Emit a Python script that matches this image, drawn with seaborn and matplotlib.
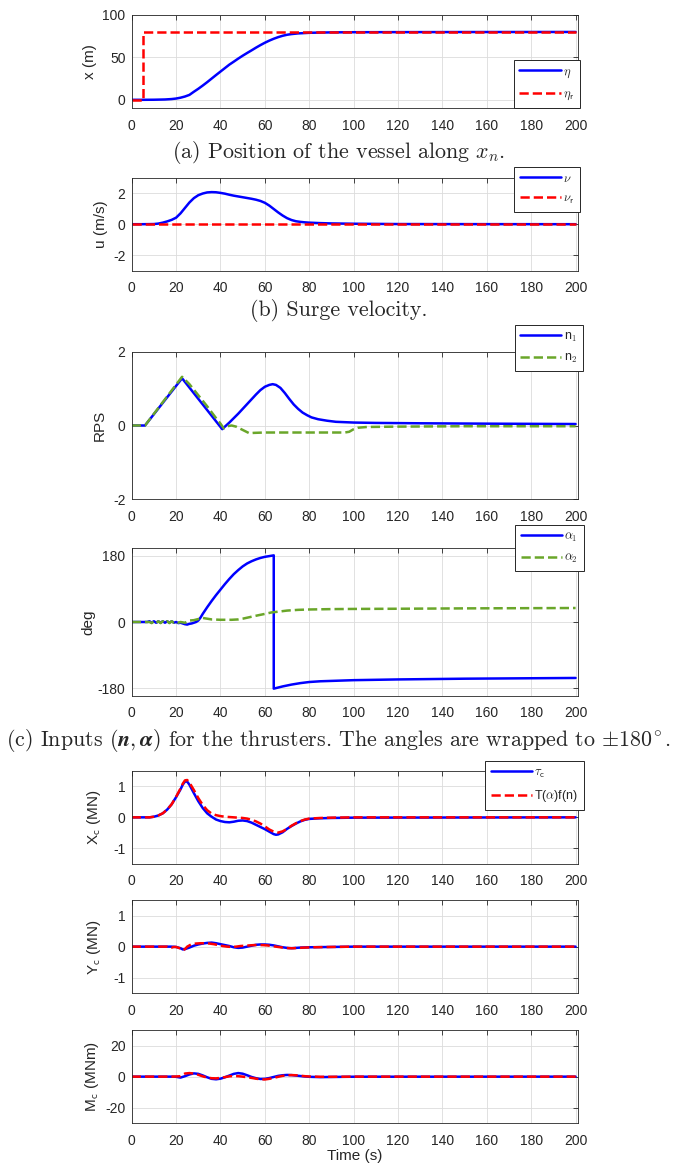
import matplotlib
matplotlib.use("Agg")
import matplotlib.pyplot as plt
import seaborn as sns
import numpy as np

# ---------------- data ----------------
# (a) position along x_n
t_eta = [0, 5, 10, 15, 18, 20, 22, 24, 26, 28, 30, 32, 34, 36, 38, 40, 42, 44, 46, 48, 50,
         52, 54, 56, 58, 60, 62, 64, 66, 68, 70, 72, 75, 80, 85, 90, 100, 120, 150, 200]
eta = [0, 0, 0.1, 0.4, 0.9, 1.5, 2.5, 3.9, 5.8, 9.5, 13, 16.8, 20.8, 25, 29.2, 33.3, 37.4, 41.5,
       45, 48.6, 52, 55.2, 58.3, 61.5, 64.5, 67.3, 69.8, 72, 73.9, 75.5, 76.7, 77.5, 78.3, 79,
       79.3, 79.5, 79.7, 79.8, 79.9, 80]
t_eta_r = [0, 5, 5, 200]
eta_r = [0, 0, 80, 80]

# (b) surge velocity
t_nu = [0, 5, 10, 12, 14, 16, 18, 20, 22, 24, 26, 28, 30, 32, 34, 36, 38, 40, 42, 44, 46, 48, 50,
        52, 54, 56, 58, 60, 62, 64, 66, 68, 70, 72, 74, 76, 78, 80, 85, 90, 100, 120, 150, 200]
nu = [0, 0, 0.01, 0.04, 0.1, 0.18, 0.28, 0.42, 0.7, 1.05, 1.4, 1.68, 1.87, 1.98, 2.05, 2.07, 2.06,
      2.02, 1.97, 1.9, 1.84, 1.79, 1.74, 1.69, 1.64, 1.58, 1.5, 1.38, 1.2, 0.98, 0.76, 0.56, 0.39,
      0.27, 0.19, 0.15, 0.12, 0.1, 0.07, 0.05, 0.03, 0.01, 0.005, 0.0]
t_nu_r = [0, 200]
nu_r = [0, 0]

# (c) thruster inputs: RPS
t_n1 = [0, 6, 22.7, 40.8, 42, 44, 46, 48, 50, 52, 54, 56, 58, 60, 62, 63.5, 65, 67, 69, 71, 73,
        75, 77, 79, 81, 84, 88, 92, 96, 100, 110, 130, 160, 200]
n1 = [0, 0, 1.28, -0.1, -0.03, 0.08, 0.2, 0.32, 0.45, 0.58, 0.71, 0.84, 0.96, 1.05, 1.1, 1.12,
      1.1, 1.02, 0.88, 0.72, 0.57, 0.45, 0.35, 0.28, 0.22, 0.17, 0.13, 0.1, 0.09, 0.08, 0.07,
      0.06, 0.05, 0.04]
t_n2 = [0, 6, 22.7, 26, 30, 34, 38, 40, 41.5, 43, 45, 47, 50, 53, 55, 60, 70, 80, 90, 96, 98,
        100, 102, 106, 120, 150, 200]
n2 = [0, 0, 1.32, 1.12, 0.82, 0.52, 0.2, 0.05, -0.08, -0.02, 0.0, -0.03, -0.12, -0.21, -0.2,
      -0.19, -0.19, -0.19, -0.19, -0.19, -0.17, -0.1, -0.06, -0.04, -0.03, -0.02, -0.02]

# (c) thruster inputs: angles (deg)
t_a1 = [0, 7, 8, 9, 10, 11, 12, 13, 14, 15, 16, 17, 18, 19, 20, 21, 22, 23, 24, 25, 26, 27, 28,
        29, 30, 31, 32, 34, 36, 38, 40, 42, 44, 46, 48, 50, 52, 54, 56, 58, 60, 62, 64, 64,
        66, 68, 72, 76, 80, 85, 90, 100, 120, 150, 200]
a1 = [0, 0, 2, -2, 2, -2, 2, -2, 2, -2, 2, -2, 2, -2, 0, -3, -2, -4, -6, -7, -5, -4, -2, 0, 4,
      12, 22, 40, 57, 73, 88, 103, 117, 130, 141, 151, 159, 165, 170, 174, 177, 179, 181, -181,
      -178, -175, -170, -166, -163, -161, -160, -158, -156, -154, -152]
t_a2 = [0, 8, 9, 10, 11, 12, 13, 14, 15, 16, 17, 18, 19, 20, 21, 22, 24, 26, 28, 30, 32, 34, 36,
        40, 45, 48, 50, 53, 56, 60, 63, 66, 70, 75, 80, 90, 100, 120, 150, 200]
a2 = [0, 0, -3, 2, -3, 2, -3, 2, -3, 2, -3, 2, -2, 1, -2, 0, -2, 4, 5, 8, 11, 9, 7, 6, 6, 7, 9,
      13, 17, 22, 26, 28, 31, 33, 34, 35, 35.5, 36, 37, 38]

# (d) commanded vs produced forces
t_xc = [0, 8, 10, 12, 14, 16, 18, 20, 22, 23, 24, 25, 26, 28, 30, 32, 34, 36, 38, 40, 42, 44, 46,
        48, 50, 52, 54, 56, 58, 60, 62, 64, 65, 66, 68, 70, 72, 74, 76, 78, 80, 85, 90, 100, 200]
xc_tau = [0, 0, 0.02, 0.06, 0.13, 0.25, 0.42, 0.65, 0.9, 1.05, 1.15, 1.15, 1.05, 0.78, 0.52, 0.3,
          0.13, 0.02, -0.07, -0.12, -0.15, -0.16, -0.14, -0.11, -0.1, -0.12, -0.17, -0.24, -0.31,
          -0.38, -0.46, -0.54, -0.56, -0.55, -0.48, -0.37, -0.28, -0.2, -0.13, -0.08, -0.05,
          -0.03, -0.02, -0.01, 0]
t_xf = [0, 8, 10, 12, 14, 16, 18, 20, 22, 23, 24, 25, 26, 28, 30, 32, 34, 36, 38, 40, 42, 44, 46,
        48, 50, 52, 54, 56, 58, 60, 62, 64, 66, 68, 70, 72, 74, 76, 78, 80, 85, 90, 100, 200]
xc_tf = [0, 0, 0.02, 0.06, 0.13, 0.25, 0.42, 0.66, 0.93, 1.08, 1.19, 1.2, 1.12, 0.88, 0.62, 0.4,
         0.23, 0.12, 0.07, 0.04, 0.02, 0.01, 0.0, -0.01, -0.02, -0.04, -0.08, -0.13, -0.2, -0.29,
         -0.39, -0.46, -0.49, -0.45, -0.37, -0.27, -0.19, -0.12, -0.07, -0.04, -0.02, -0.01, 0, 0]

t_yc = [0, 18, 20, 22, 23, 24, 26, 28, 30, 32, 34, 36, 38, 40, 42, 44, 46, 48, 50, 52, 54, 56, 58,
        60, 62, 64, 66, 68, 70, 72, 74, 76, 80, 90, 100, 200]
yc_tau = [0, 0, -0.01, -0.05, -0.09, -0.08, -0.03, 0.03, 0.07, 0.1, 0.12, 0.13, 0.11, 0.08, 0.05,
          0.02, -0.02, -0.04, -0.03, 0.0, 0.03, 0.06, 0.07, 0.07, 0.06, 0.04, 0.01, -0.02, -0.04,
          -0.05, -0.04, -0.03, -0.02, -0.01, 0, 0]
t_yf = [0, 16, 17, 18, 19, 20, 22, 23, 24, 25, 27, 29, 31, 33, 35, 37, 39, 41, 43, 45, 47, 49, 51,
        53, 55, 57, 59, 61, 63, 65, 67, 69, 71, 73, 75, 78, 82, 90, 100, 200]
yc_tf = [0, 0, -0.02, -0.03, -0.01, -0.01, -0.06, -0.12, -0.08, 0.0, 0.08, 0.1, 0.11, 0.11, 0.1,
         0.08, 0.05, 0.02, 0.0, -0.01, 0.0, 0.02, 0.03, 0.04, 0.05, 0.05, 0.05, 0.04, 0.02, 0.0,
         -0.02, -0.04, -0.05, -0.05, -0.04, -0.03, -0.02, -0.01, 0, 0]

t_mc = [0, 18, 20, 22, 24, 26, 28, 30, 32, 34, 36, 38, 40, 42, 44, 46, 48, 50, 52, 54, 56, 58, 60,
        62, 64, 66, 68, 70, 72, 74, 76, 78, 80, 85, 90, 100, 200]
mc_tau = [0, 0, -0.1, -0.6, 0.3, 1.4, 2.1, 1.8, 0.8, -0.4, -1.4, -1.7, -1.3, -0.4, 0.7, 1.8, 2.3,
          1.9, 0.9, -0.2, -1.0, -1.5, -1.4, -0.9, -0.2, 0.5, 0.9, 1.1, 1.0, 0.7, 0.4, 0.1, -0.1,
          -0.3, -0.2, -0.05, 0]
t_mf = [0, 18, 20, 22, 23, 24, 26, 28, 30, 32, 34, 36, 38, 40, 42, 44, 46, 48, 50, 52, 54, 56, 58,
        60, 62, 64, 66, 68, 70, 72, 74, 76, 78, 80, 85, 90, 100, 200]
mc_tf = [0, 0, 0.1, 0.3, 1.2, 2.0, 2.3, 2.0, 1.2, 0.2, -0.6, -1.0, -1.1, -0.8, -0.3, 0.2, 0.4, 0.3,
         0.0, -0.4, -0.8, -1.3, -1.7, -1.8, -1.4, -0.8, -0.1, 0.5, 0.9, 1.0, 0.9, 0.6, 0.3, 0.1,
         -0.1, -0.1, 0, 0]

x_ticks = [0, 20, 40, 60, 80, 100, 120, 140, 160, 180, 200]
captions = [r"(a) Position of the vessel along $x_n$.",
            r"(b) Surge velocity.",
            r"(c) Inputs $(\boldsymbol{n},\boldsymbol{\alpha})$ for the thrusters. "
            r"The angles are wrapped to $\pm180^{\!\circ}$."]

# ---------------- style ----------------
sns.set_style("white")
plt.rcParams["font.family"] = ["Liberation Sans", "DejaVu Sans"]
plt.rcParams["mathtext.fontset"] = "cm"
plt.rcParams["axes.unicode_minus"] = False

W, H = 678, 1165
L, R = 131.7, 577.8
BLUE, RED, GREEN = "#0000FF", "#FF0000", "#6AA62A"
DARK = "#262626"
LW = 1.8

fig = plt.figure(figsize=(W / 100, H / 100), dpi=100)


def add_ax(top, bottom):
    return fig.add_axes([L / W, 1 - bottom / H, (R - L) / W, (bottom - top) / H])


def style(ax, ylim, yticks, ylabel="", label_right=100):
    ax.set_xlim(0, 201)
    ax.set_ylim(*ylim)
    ax.set_xticks(x_ticks)
    ax.set_yticks(yticks)
    ax.grid(True, color="#dcdcdc", lw=0.6)
    ax.set_axisbelow(True)
    for s in ax.spines.values():
        s.set_color(DARK)
        s.set_linewidth(0.6)
        s.set_visible(True)
    ax.tick_params(direction="in", top=True, right=True, length=3.5, width=0.6,
                   color=DARK, labelcolor=DARK, labelsize=10)
    ax.tick_params(axis="x", pad=7.5)
    ax.tick_params(axis="y", pad=4.5)
    ax.set_xlabel("")
    ax.set_ylabel(ylabel, fontsize=11, color=DARK)
    ax.yaxis.set_label_coords((label_right - L) / (R - L), 0.5)


def line(ax, t, v, color, ls, label):
    sns.lineplot(x=t, y=v, ax=ax, color=color, linestyle=ls, lw=LW,
                 estimator=None, sort=False, label=label)


def legend(ax, right, top):
    leg = ax.legend(loc="upper right", bbox_to_anchor=(right / W, 1 - top / H),
                    bbox_transform=fig.transFigure, fontsize=9, handlelength=3.3,
                    handletextpad=0.2, borderpad=0.45, labelspacing=0.65,
                    fancybox=False, framealpha=1, borderaxespad=0)
    leg.get_frame().set_edgecolor(DARK)
    leg.get_frame().set_linewidth(0.7)
    for txt in leg.get_texts():
        txt.set_color(DARK)
    return leg


# (a)
ax1 = add_ax(15, 108.3)
line(ax1, t_eta, eta, BLUE, "-", r"$\eta$")
line(ax1, t_eta_r, eta_r, RED, "--", r"$\eta_\mathsf{r}$")
style(ax1, (-10, 100), [0, 50, 100], ylabel="x (m)", label_right=97)
legend(ax1, 580, 60)

# (b)
ax2 = add_ax(177.7, 270.7)
line(ax2, t_nu, nu, BLUE, "-", r"$\nu$")
line(ax2, t_nu_r, nu_r, RED, "--", r"$\nu_\mathsf{r}$")
style(ax2, (-3, 3), [-2, 0, 2], ylabel="u (m/s)", label_right=108)
legend(ax2, 580, 167)

# (c) RPS
ax3 = add_ax(351.7, 499.3)
line(ax3, t_n1, n1, BLUE, "-", r"n$_\mathsf{1}$")
line(ax3, t_n2, n2, GREEN, "--", r"n$_\mathsf{2}$")
style(ax3, (-2, 2), [-2, 0, 2], ylabel="RPS", label_right=107)
legend(ax3, 583, 325)

# (c) deg
ax4 = add_ax(548, 696)
line(ax4, t_a1, a1, BLUE, "-", r"$\alpha_\mathsf{1}$")
line(ax4, t_a2, a2, GREEN, "--", r"$\alpha_\mathsf{2}$")
style(ax4, (-201, 201), [-180, 0, 180], ylabel="deg", label_right=95)
legend(ax4, 584, 525)

# (d) Xc
ax5 = add_ax(770.7, 864)
line(ax5, t_xc, xc_tau, BLUE, "-", r"$\tau_\mathsf{c}$")
line(ax5, t_xf, xc_tf, RED, "--", r"T($\alpha$)f(n)")
style(ax5, (-1.5, 1.5), [-1, 0, 1], ylabel=r"X$_\mathsf{c}$ (MN)", label_right=103)
legend(ax5, 584, 761)

# Yc
ax6 = add_ax(900, 993.3)
line(ax6, t_yc, yc_tau, BLUE, "-", None)
line(ax6, t_yf, yc_tf, RED, "--", None)
style(ax6, (-1.5, 1.5), [-1, 0, 1], ylabel=r"Y$_\mathsf{c}$ (MN)", label_right=103)
if ax6.get_legend() is not None:
    ax6.get_legend().remove()

# Mc
ax7 = add_ax(1030, 1123.3)
line(ax7, t_mc, mc_tau, BLUE, "-", None)
line(ax7, t_mf, mc_tf, RED, "--", None)
style(ax7, (-30, 30), [-20, 0, 20], ylabel=r"M$_\mathsf{c}$ (MNm)", label_right=101)
if ax7.get_legend() is not None:
    ax7.get_legend().remove()
ax7.set_xlabel("Time (s)", fontsize=11, color=DARK, labelpad=1)

# captions
for s, y in zip(captions, [152.5, 310, 740]):
    fig.text(0.5, 1 - y / H, s, ha="center", va="center", fontsize=15.8,
             family=["cmr10", "DejaVu Serif"])

fig.savefig("out.png", dpi=100)
